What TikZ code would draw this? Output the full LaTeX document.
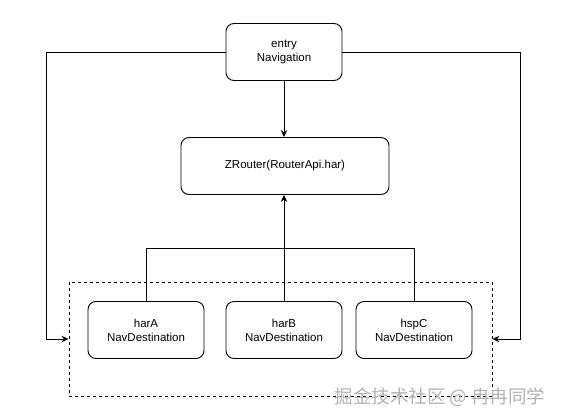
\documentclass[tikz,border=0pt]{standalone}
\usepackage{fontspec}
\setmainfont{Liberation Sans}
\newfontfamily\cjk{Noto Sans CJK SC}
\usetikzlibrary{arrows.meta,positioning}

\begin{document}
\begin{tikzpicture}[x=1pt, y=-1pt,
    box/.style={draw, rounded corners=8pt, line width=0.9pt, align=center,
        minimum width=116pt, minimum height=57pt, inner sep=2pt,
        font=\fontsize{11.5}{14}\selectfont},
    group/.style={draw, line width=0.9pt, dash pattern=on 3pt off 3pt,
        minimum width=423pt, minimum height=114pt},
    link/.style={line width=0.9pt},
    arr/.style={link, -{Stealth[length=7pt, width=6.5pt]}}]
    \useasboundingbox (0,0) rectangle (561,417);

    % top: entry and router
    \node[box] (entry) at (284,52) {entry\\Navigation};
    \node[box, minimum width=208pt] (zr) at (285,166) {ZRouter(RouterApi.har)};
    \draw[arr] (entry.south) -- (entry.south |- zr.north);

    % bottom: destinations in a dashed group
    \node[group] (grp) at (280.5,339) {};
    \node[box] (hara) at (146,330) {harA\\NavDestination};
    \node[box] (harb) at (284,330) {harB\\NavDestination};
    \node[box] (hspc) at (414,330) {hspC\\NavDestination};

    \draw[link] (hara.north) -- ++(0,-53) -| (hspc.north);
    \draw[arr] (harb.north) -- (harb.north |- zr.south);

    % entry reaches the group on both sides
    \draw[arr] (entry.west) -- ++(-179,0) |- (grp.west);
    \draw[arr] (entry.east) -- ++(178,0) |- (grp.east);

    % watermark
    \node[text=gray!60, font=\cjk\fontsize{18.5}{18.5}\selectfont] (mark) at (440,397) {掘金技术社区 @ 冉冉同学};
\end{tikzpicture}
\end{document}
